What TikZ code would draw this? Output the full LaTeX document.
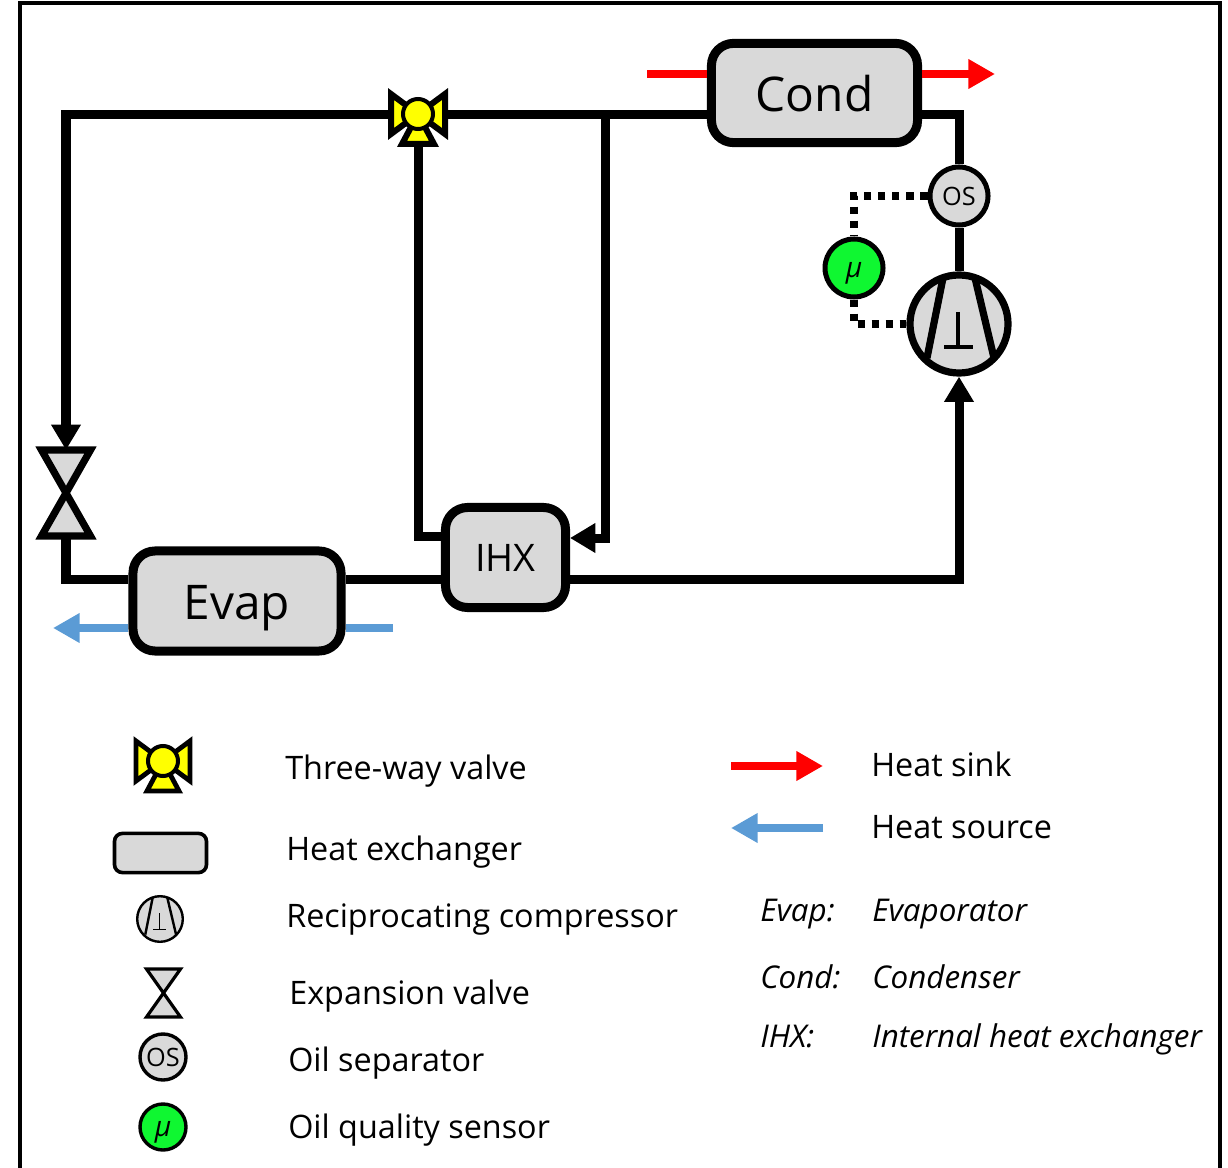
\documentclass[tikz,border=0pt]{standalone}
\usepackage{amsmath, amssymb}
\usepackage{fontspec}
\usepackage{xcolor}
\usepackage{tikz}
\usetikzlibrary{arrows.meta, positioning}
\setmainfont{Open Sans}

\definecolor{hxgray}{HTML}{D9D9D9}
\definecolor{sensorgreen}{HTML}{0FF731}
\definecolor{valveyellow}{HTML}{FFFF00}
\definecolor{sinkred}{HTML}{FF0000}
\definecolor{sourceblue}{HTML}{5B9BD5}

\tikzset{
    pipe/.style={line width=.225cm, line join=miter},
    pipeflow/.style={pipe, -{Triangle[length=18pt, width=20pt]}},
    signal/.style={line width=.18cm, dash pattern=on .19cm off .16cm},
    sinkline/.style={line width=.2cm, sinkred},
    sourceline/.style={line width=.2cm, sourceblue},
    sinkflow/.style={sinkline, -{Triangle[length=19pt, width=20pt]}},
    sourceflow/.style={sourceline, -{Triangle[length=19pt, width=20pt]}},
    hx/.style={draw, fill=hxgray, line width=.225cm, rounded corners=.55cm, inner sep=0pt, text depth=0pt},
    round/.style={draw, circle, inner sep=0pt},
    oslabel/.style={font=\fontsize{18}{20}\selectfont},
    mulabel/.style={font=\fontsize{20}{22}\selectfont\itshape, text height=.45cm, text depth=0pt},
    legendtext/.style={anchor=base west, inner sep=0pt, font=\fontsize{23}{28}\selectfont},
    legendnote/.style={legendtext, font=\fontsize{22.3}{28}\selectfont\itshape}
}

\begin{document}
\begin{tikzpicture}[x=.025cm, y=-.025cm]

    \useasboundingbox (0,0) rectangle (1228,1168);

    % =================================================================
    % 1. FRAME
    % =================================================================
    \draw[line width=.1cm] (20,1168) -- (20,3) -- (1220,3) -- (1220,1168);

    % =================================================================
    % 2. MAIN COORDINATES OF THE PIPES
    % =================================================================
    \coordinate (TopL) at (66,115);
    \coordinate (TeeTop) at (605,115);
    \coordinate (CondOut) at (959,115);
    \coordinate (IhxIn) at (418,536);
    \coordinate (IhxRet) at (605,538);
    \coordinate (EvapL) at (66,579);
    \coordinate (IhxOut) at (959,579);
    \coordinate (SinkIn) at (647,74);
    \coordinate (SinkOut) at (995,74);
    \coordinate (SourceIn) at (393,628);
    \coordinate (SourceOut) at (53,628);

    % =================================================================
    % 3. HEAT EXCHANGERS AND ROUND COMPONENTS
    % =================================================================
    \node[hx, minimum width=5.15cm, minimum height=2.48cm, text height=.9cm, font=\fontsize{34}{40}\selectfont] (Cond) at (814.5,93) {Cond};
    \node[hx, minimum width=5.2cm, minimum height=2.5cm, text height=.9cm, font=\fontsize{34}{40}\selectfont] (Evap) at (237,601) {Evap};
    \node[hx, minimum width=3cm, minimum height=2.5cm, text height=.7cm, font=\fontsize{27}{32}\selectfont] (Ihx) at (505.5,557.5) {IHX};
    \node[hx, line width=.09cm, rounded corners=.2cm, minimum width=2.3cm, minimum height=.98cm] (HxKey) at (160.5,853) {};

    % Oil separator and oil quality sensor, in the circuit and in the key
    \node[round, fill=hxgray, line width=.125cm, minimum size=1.45cm, oslabel] (Os) at (959,196) {OS};
    \node[round, fill=sensorgreen, line width=.125cm, minimum size=1.45cm, mulabel] (Sensor) at (854,268) {μ};
    \node[round, fill=hxgray, line width=.085cm, minimum size=1.15cm, oslabel] (OsKey) at (163,1057) {OS};
    \node[round, fill=sensorgreen, line width=.085cm, minimum size=1.15cm, mulabel] (SensorKey) at (163,1127) {μ};

    % Reciprocating compressor
    \foreach \nm/\cx/\cy/\cs/\ds/\lw/\tw in {Comp/959/324/1/2.45/.18/.11, CompKey/160/919/.46/1.14/.06/.04} {
        \begin{scope}[shift={(\cx,\cy)}, scale=\cs]
            \node[round, fill=hxgray, line width=\lw cm, minimum size=\ds cm] (\nm) at (0,0) {};
            \draw[line width=\lw cm] (-16,-46) -- (-32,34);
            \draw[line width=\lw cm] (16,-46) -- (35,34);
            \draw[line width=\tw cm] (-1,-12) -- (-1,23);
            \draw[line width=\tw cm] (-15,23) -- (14,23);
        \end{scope}
    }

    % =================================================================
    % 4. VALVES
    % =================================================================
    % Three-way valve: three triangles around a small circle
    \foreach \nm/\cx/\cy/\lw in {ValveA/418/114/.15, ValveKey/163/761/.12} {
        \begin{scope}[shift={(\cx,\cy)}]
            \draw[line width=\lw cm, fill=valveyellow] (-27,-20) -- (-27,20) -- (0,0) -- cycle;
            \draw[line width=\lw cm, fill=valveyellow] (27,-20) -- (27,20) -- (0,0) -- cycle;
            \draw[line width=\lw cm, fill=valveyellow] (-16,30) -- (16,30) -- (0,0) -- cycle;
            \node[round, fill=valveyellow, line width=.1cm, minimum size=.75cm] (\nm) at (0,0) {};
            \coordinate (\nm-w) at (-29,1);
            \coordinate (\nm-e) at (29,1);
            \coordinate (\nm-s) at (0,32);
        \end{scope}
    }

    % Expansion valve: two triangles meeting at the tip
    \foreach \nm/\cx/\cy/\hw/\hh/\lw in {ExpA/66/493/24.5/43/.18, ExpKey/163.5/993/17/24/.08} {
        \begin{scope}[shift={(\cx,\cy)}]
            \draw[line width=\lw cm, fill=hxgray] (-\hw,-\hh) -- (\hw,-\hh) -- (-\hw,\hh) -- (\hw,\hh) -- cycle;
            \coordinate (\nm-n) at (0,-\hh);
            \coordinate (\nm-s) at (0,\hh);
        \end{scope}
    }

    % =================================================================
    % 5. PIPES AND SIGNAL LINES
    % =================================================================
    \draw[pipeflow] (ValveA-w) -- (TopL) -- (ExpA-n);
    \draw[pipe] (Cond.west |- TopL) -- (ValveA-e);
    \draw[pipe] (ValveA-s) -- (IhxIn) -- (Ihx.west |- IhxIn);
    \draw[pipeflow] (TeeTop) -- (IhxRet) -- (Ihx.east |- IhxRet);
    \draw[pipe] (Cond.east |- CondOut) -- (CondOut) -- (Os.north);
    \draw[pipe] (Os.south) -- (Comp.north);
    \draw[pipe] (ExpA-s) -- (EvapL) -- (Evap.west |- EvapL);
    \draw[pipe] (Evap.east |- EvapL) -- (Ihx.west |- EvapL);
    \draw[pipeflow] (Ihx.east |- EvapL) -- (IhxOut) -- (Comp.south);

    \draw[signal] (Os.west) -- (Sensor.north |- Os.west) -- (Sensor.north);
    \draw[signal] (Sensor.south) -- (Sensor.south |- Comp.west) -- (Comp.west);

    % Heat sink and heat source
    \draw[sinkline] (SinkIn) -- (Cond.west |- SinkIn);
    \draw[sinkflow] (Cond.east |- SinkIn) -- (SinkOut);
    \draw[sourceline] (SourceIn) -- (Evap.east |- SourceIn);
    \draw[sourceflow] (Evap.west |- SourceOut) -- (SourceOut);

    % =================================================================
    % 6. KEY
    % =================================================================
    \coordinate (KeySinkA) at (731,766);
    \coordinate (KeySinkB) at (823,766);
    \coordinate (KeySourceA) at (823,828);
    \coordinate (KeySourceB) at (731,828);
    \draw[sinkflow] (KeySinkA) -- (KeySinkB);
    \draw[sourceflow] (KeySourceA) -- (KeySourceB);

    \node[legendtext] (TxtValve) at (285,779) {Three-way valve};
    \node[legendtext] (TxtHx) at (286,860) {Heat exchanger};
    \node[legendtext] (TxtComp) at (286,927) {Reciprocating compressor};
    \node[legendtext] (TxtExp) at (289,1004) {Expansion valve};
    \node[legendtext] (TxtOs) at (288,1071) {Oil separator};
    \node[legendtext] (TxtSensor) at (288,1138) {Oil quality sensor};
    \node[legendtext] (TxtSink) at (871,776) {Heat sink};
    \node[legendtext] (TxtSource) at (871,838) {Heat source};

    \foreach \nm/\yy/\ab/\full in {Evap/921/Evap:/Evaporator, Cond/988/Cond:/Condenser, Ihx/1047/IHX:/Internal heat exchanger} {
        \node[legendnote] (Abbr\nm) at (760,\yy) {\ab};
        \node[legendnote] (Full\nm) at (872,\yy) {\full};
    }

\end{tikzpicture}
\end{document}
